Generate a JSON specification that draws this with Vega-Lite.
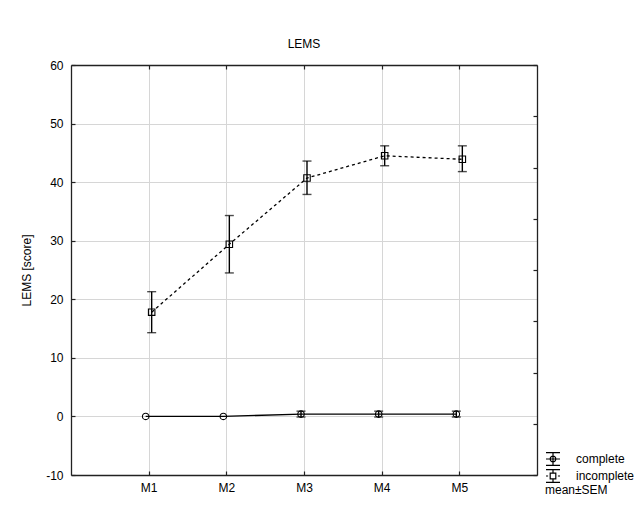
{
  "$schema": "https://vega.github.io/schema/vega-lite/v6.json",
  "width": 466,
  "height": 410,
  "autosize": {"type": "none"},
  "padding": {"left": 71, "top": 65, "right": 105, "bottom": 46},
  "background": "white",
  "title": {"text": "LEMS", "fontSize": 12, "fontWeight": "normal", "color": "black", "offset": 8, "anchor": "middle"},
  "config": {
    "font": "Liberation Sans",
    "view": {"stroke": null},
    "axis": {
      "labelFontSize": 12,
      "labelColor": "black",
      "titleFontSize": 12,
      "titleFontWeight": "normal",
      "titleColor": "black",
      "domainColor": "#222222",
      "domainWidth": 1.3,
      "tickColor": "#222222",
      "tickWidth": 1.2,
      "tickSize": -4,
      "gridColor": "#d6d6d6",
      "gridWidth": 1
    }
  },
  "data": {
    "values": [
      {"visit": "M1", "group": "complete", "mean": 0, "lo": null, "hi": null},
      {"visit": "M2", "group": "complete", "mean": 0, "lo": null, "hi": null},
      {"visit": "M3", "group": "complete", "mean": 0.4, "lo": -0.1, "hi": 0.9},
      {"visit": "M4", "group": "complete", "mean": 0.4, "lo": -0.1, "hi": 0.9},
      {"visit": "M5", "group": "complete", "mean": 0.4, "lo": -0.1, "hi": 0.9},
      {"visit": "M1", "group": "incomplete", "mean": 17.8, "lo": 14.3, "hi": 21.3},
      {"visit": "M2", "group": "incomplete", "mean": 29.4, "lo": 24.5, "hi": 34.3},
      {"visit": "M3", "group": "incomplete", "mean": 40.7, "lo": 37.9, "hi": 43.6},
      {"visit": "M4", "group": "incomplete", "mean": 44.5, "lo": 42.8, "hi": 46.2},
      {"visit": "M5", "group": "incomplete", "mean": 43.9, "lo": 41.8, "hi": 46.2}
    ]
  },
  "encoding": {
    "x": {
      "field": "visit", "type": "ordinal", "sort": ["M1", "M2", "M3", "M4", "M5"],
      "scale": {"type": "point", "padding": 1},
      "axis": null
    },
    "xOffset": {"field": "group", "type": "nominal", "scale": {"type": "point", "range": [-6, 6]}}
  },
  "layer": [
    {
      "mark": {"type": "rule", "color": "black", "strokeWidth": 1.4},
      "encoding": {
        "x": {
          "field": "visit", "type": "ordinal", "sort": ["M1", "M2", "M3", "M4", "M5"],
          "scale": {"type": "point", "padding": 1},
          "axis": {"orient": "bottom", "title": null, "labelPadding": 11, "labelAngle": 0, "grid": true}
        },
        "y": {
          "field": "lo", "type": "quantitative",
          "scale": {"domain": [-10, 60], "nice": false, "zero": false},
          "axis": {
            "orient": "left", "title": "LEMS [score]", "titlePadding": 12,
            "values": [-10, 0, 10, 20, 30, 40, 50, 60],
            "labelExpr": "'' + datum.value",
            "labelPadding": 12,
            "grid": true,
            "gridOpacity": {"condition": {"test": "datum.value === -10 || datum.value === 60", "value": 0}, "value": 1}
          }
        },
        "y2": {"field": "hi"}
      }
    },
    {
      "mark": {"type": "tick", "color": "black", "size": 9, "thickness": 1.4},
      "encoding": {
        "x": {
          "field": "visit", "type": "ordinal", "sort": ["M1", "M2", "M3", "M4", "M5"],
          "scale": {"type": "point", "padding": 1},
          "axis": {"orient": "top", "title": null, "labels": false, "grid": false}
        },
        "y": {
          "field": "lo", "type": "quantitative",
          "axis": {
            "orient": "right", "title": null, "labels": false, "grid": false,
            "values": [-10, -1.25, 7.5, 16.25, 25, 33.75, 42.5, 51.25, 60]
          }
        }
      }
    },
    {
      "mark": {"type": "tick", "color": "black", "size": 9, "thickness": 1.4},
      "encoding": {
        "y": {"field": "hi", "type": "quantitative", "axis": null}
      }
    },
    {
      "transform": [{"filter": "datum.group === 'complete'"}],
      "mark": {"type": "line", "color": "black", "strokeWidth": 1.3},
      "encoding": {
        "y": {"field": "mean", "type": "quantitative", "axis": null}
      }
    },
    {
      "transform": [{"filter": "datum.group === 'incomplete'"}],
      "mark": {"type": "line", "color": "black", "strokeWidth": 1.3, "strokeDash": [3, 3]},
      "encoding": {
        "y": {"field": "mean", "type": "quantitative", "axis": null}
      }
    },
    {
      "transform": [{"filter": "datum.group === 'complete'"}],
      "mark": {"type": "point", "shape": "circle", "filled": false, "color": "black", "strokeWidth": 1.1, "size": 42, "opacity": 1},
      "encoding": {
        "y": {"field": "mean", "type": "quantitative", "axis": null}
      }
    },
    {
      "transform": [{"filter": "datum.group === 'incomplete'"}],
      "mark": {"type": "point", "shape": "square", "filled": false, "color": "black", "strokeWidth": 1.1, "size": 42, "opacity": 1},
      "encoding": {
        "y": {"field": "mean", "type": "quantitative", "axis": null}
      }
    },
    {
      "mark": {"type": "point", "filled": false, "color": "black", "strokeWidth": 1.2, "size": 196, "opacity": 0},
      "encoding": {
        "y": {"field": "mean", "type": "quantitative", "axis": null},
        "shape": {
          "field": "group", "type": "nominal",
          "scale": {
            "domain": ["complete", "incomplete"],
            "range": [
              "M-1,0L1,0M-1,-0.9L1,-0.9M-1,0.9L1,0.9M0,-0.9L0,0.9M0.4,0A0.4,0.4 0 1 1 -0.4,0A0.4,0.4 0 1 1 0.4,0",
              "M-1,0L-0.7,0M0.7,0L1,0M-1,-0.9L1,-0.9M-1,0.9L1,0.9M0,-0.9L0,-0.4M0,0.4L0,0.9M-0.4,-0.4L0.4,-0.4L0.4,0.4L-0.4,0.4Z"
            ]
          },
          "legend": {
            "title": "mean±SEM",
            "orient": "none",
            "legendX": 474,
            "legendY": 386,
            "titleOrient": "bottom",
            "titleAnchor": "start",
            "titleFontSize": 12,
            "titleFontWeight": "normal",
            "titleColor": "black",
            "titlePadding": 0,
            "labelFontSize": 12,
            "labelColor": "black",
            "labelOffset": 15,
            "rowPadding": -3,
            "padding": 0,
            "symbolSize": 196,
            "symbolStrokeWidth": 1.2,
            "symbolStrokeColor": "black",
            "symbolFillColor": "transparent",
            "symbolOpacity": 1
          }
        }
      }
    }
  ]
}
